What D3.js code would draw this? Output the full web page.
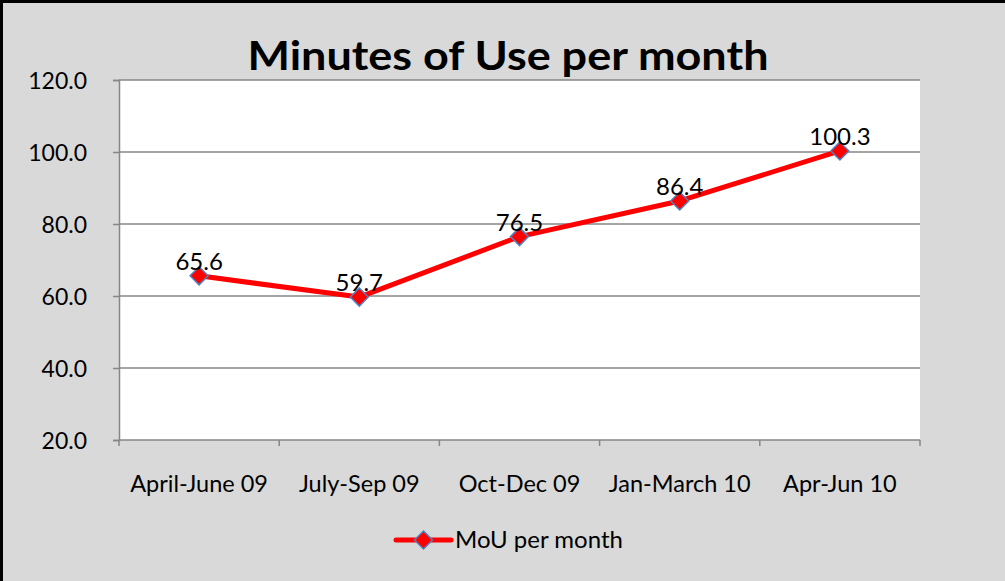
<!DOCTYPE html>
<html>
<head>
<meta charset="utf-8">
<title>Minutes of Use per month</title>
<script src="https://cdn.jsdelivr.net/npm/d3@7"></script>
<style>
  html, body { margin: 0; padding: 0; background: #d9d9d9; }
  text { font-family: Lato, "Open Sans", sans-serif; fill: #000; }
</style>
</head>
<body>
<div id="chart"></div>
<script>
var categories = ["April-June 09", "July-Sep 09", "Oct-Dec 09", "Jan-March 10", "Apr-Jun 10"];
var mou = [65.6, 59.7, 76.5, 86.4, 100.3];
var yTicks = [20, 40, 60, 80, 100, 120];
var seriesName = "MoU per month";

var width = 1005, height = 581;
var margin = {top: 80, right: 85, bottom: 141, left: 119};

var svg = d3.select("#chart").append("svg")
    .attr("width", width)
    .attr("height", height);

svg.append("rect")
   .attr("width", width).attr("height", height)
   .attr("fill", "#d9d9d9");

// border only along top and left
svg.append("path")
   .attr("d", "M1.5," + height + "V1.5H" + width)
   .attr("fill", "none")
   .attr("stroke", "#000")
   .attr("stroke-width", 3);

var x = d3.scaleBand()
    .domain(categories)
    .range([margin.left, width - margin.right]);

var y = d3.scaleLinear()
    .domain([20, 120])
    .range([height - margin.bottom, margin.top]);

svg.append("rect")
   .attr("x", margin.left).attr("y", margin.top)
   .attr("width", width - margin.right - margin.left)
   .attr("height", height - margin.bottom - margin.top)
   .attr("fill", "#fff");

// gridlines
svg.append("g")
   .selectAll("line")
   .data(yTicks.slice(1))
   .enter().append("line")
   .attr("x1", margin.left).attr("x2", width - margin.right)
   .attr("y1", function(d) { return y(d); })
   .attr("y2", function(d) { return y(d); })
   .attr("stroke", "#868686")
   .attr("stroke-width", 1.5);

// y axis
var yAxis = svg.append("g")
   .attr("transform", "translate(" + margin.left + ",0)")
   .call(d3.axisLeft(y).tickValues(yTicks).tickFormat(d3.format(".1f"))
         .tickSize(6).tickPadding(26));
yAxis.select(".domain").attr("stroke", "#868686").attr("stroke-width", 1.5);
yAxis.selectAll(".tick line").attr("stroke", "#868686").attr("stroke-width", 1.5);
yAxis.selectAll(".tick text").attr("font-size", 23).attr("font-family", "Lato, sans-serif")
     .attr("fill", "#000").attr("dy", "0.35em");

// x axis with ticks at band edges
var xAxis = svg.append("g")
   .attr("transform", "translate(0," + (height - margin.bottom) + ")");
xAxis.append("line")
   .attr("x1", margin.left).attr("x2", width - margin.right)
   .attr("stroke", "#868686").attr("stroke-width", 1.5);
var edges = categories.map(function(c) { return x(c); }).concat([width - margin.right]);
xAxis.selectAll(".xt")
   .data(edges)
   .enter().append("line")
   .attr("x1", function(d) { return d; }).attr("x2", function(d) { return d; })
   .attr("y1", 0).attr("y2", 6)
   .attr("stroke", "#868686").attr("stroke-width", 1.5);
xAxis.selectAll(".xl")
   .data(categories)
   .enter().append("text")
   .attr("x", function(d) { return x(d) + x.bandwidth() / 2; })
   .attr("y", 52)
   .attr("text-anchor", "middle")
   .attr("font-size", 23.5)
   .text(function(d) { return d; });

// line
var line = d3.line()
    .x(function(d, i) { return x(categories[i]) + x.bandwidth() / 2; })
    .y(function(d) { return y(d); });

svg.append("path")
   .datum(mou)
   .attr("d", line)
   .attr("fill", "none")
   .attr("stroke", "#ff0000")
   .attr("stroke-width", 5)
   .attr("stroke-linejoin", "round");

var diamond = "M0,-9L9,0L0,9L-9,0Z";

svg.append("g")
   .selectAll("path")
   .data(mou)
   .enter().append("path")
   .attr("d", diamond)
   .attr("transform", function(d, i) {
     return "translate(" + (x(categories[i]) + x.bandwidth() / 2) + "," + y(d) + ")";
   })
   .attr("fill", "#ff0000")
   .attr("stroke", "#4f81bd")
   .attr("stroke-width", 1.5);

// data labels
svg.append("g")
   .selectAll("text")
   .data(mou)
   .enter().append("text")
   .attr("x", function(d, i) { return x(categories[i]) + x.bandwidth() / 2; })
   .attr("y", function(d) { return y(d) - 6; })
   .attr("text-anchor", "middle")
   .attr("font-size", 24)
   .text(function(d) { return d.toFixed(1); });

// title
svg.append("text")
   .attr("x", 508)
   .attr("y", 70)
   .attr("text-anchor", "middle")
   .attr("font-size", 40)
   .attr("font-weight", "bold")
   .attr("textLength", 521)
   .attr("lengthAdjust", "spacingAndGlyphs")
   .text("Minutes of Use per month");

// legend
var lg = svg.append("g").attr("transform", "translate(396,540)");
lg.append("line")
  .attr("x1", 0).attr("x2", 55)
  .attr("stroke", "#ff0000").attr("stroke-width", 5).attr("stroke-linecap", "round");
lg.append("path")
  .attr("d", diamond)
  .attr("transform", "translate(27.5,0)")
  .attr("fill", "#ff0000").attr("stroke", "#4f81bd").attr("stroke-width", 1.5);
lg.append("text")
  .attr("x", 59).attr("y", 0).attr("dy", "0.35em")
  .attr("font-size", 24)
  .text(seriesName);
</script>
</body>
</html>
